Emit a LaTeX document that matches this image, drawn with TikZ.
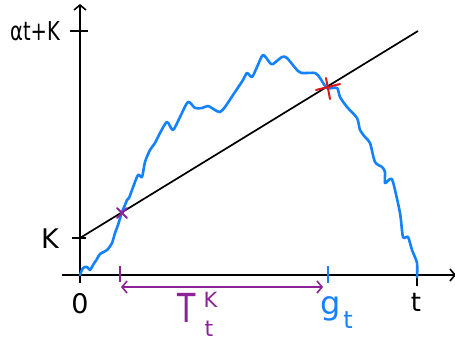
\documentclass[tikz,border=0pt]{standalone}
\usepackage{fontspec}
\usepackage{graphicx}
\setmainfont{DejaVu Sans}
\usetikzlibrary{arrows.meta}
\definecolor{cblue}{RGB}{20,130,255}
\definecolor{cpurple}{RGB}{140,35,150}
\definecolor{cred}{RGB}{220,20,30}
\begin{document}
\begin{tikzpicture}[x=1pt,y=-1pt,
  axis/.style={line width=2pt,black},
  tickline/.style={line width=2pt},
  lbl/.style={inner sep=0pt,anchor=center},
  chev/.style={-{Straight Barb[length=5pt,width=12pt,line width=1.6pt]}}]
\useasboundingbox (0,0) rectangle (455,345);
% coordinates
\coordinate (xs) at (62,275);
\coordinate (xe) at (456,275);
\coordinate (ys) at (80,283);
\coordinate (ye) at (80,4);
\coordinate (Kp) at (80,238);
\coordinate (Lp) at (418,31);
% axes
\draw[axis,chev] (xs) -- (xe);
\draw[axis,chev] (ys) -- (ye);
% ticks
\draw[tickline] (70,31) -- (88,31);
\draw[tickline] (72,238) -- (86,238);
\draw[tickline] (417,276) -- (417,286);
\draw[tickline,cpurple] (120,266) -- (120,282);
\draw[tickline,cblue] (328,266) -- (328,283);
% line alpha t + K
\draw[line width=1.7pt] (Kp) -- (Lp);
% blue path
\draw[cblue,line width=2.6pt,line join=round,line cap=round] plot[smooth,tension=0.45] coordinates {
(80,275) (83,268) (87,267) (90,270) (93,265) (97,259) (100,254) (107,250) (112,243) (115,233) (118,225) (122,212)
(125,205) (127,200) (129,198) (132,190) (138,175) (142,177) (145,162) (150,150) (155,143) (160,133) (167,122) (173,130) (180,117) (188,102) (195,108) (202,108) (208,106) (215,110) (220,112) (225,107) (233,95) (243,80) (247,73) (252,77) (257,67) (263,55) (270,63) (273,64) (282,57) (287,58) (297,70) (302,73) (315,73) (320,78) (327,88) (337,88) (340,97) (347,107) (357,118) (360,130) (365,137) (370,143) (375,162) (382,167) (385,172) (385,183) (390,179) (393,182) (400,213) (403,237) (408,237) (412,250) (417,263) (417,277)};
% crosses
\draw[cred,line width=2pt,line cap=round] (316,90) -- (340,84) (326,78) -- (330,99);
\draw[cpurple,line width=1.8pt,line cap=round] (117,208) -- (127,218) (127,208) -- (117,218);
% double arrow T_t^K
\draw[cpurple,line width=2pt,{Straight Barb[length=5pt,width=12pt,line width=1.6pt]}-{Straight Barb[length=5pt,width=12pt,line width=1.6pt]}] (121,287) -- (323,287);
% labels
\node[lbl,font=\fontsize{26}{26}\selectfont,xscale=0.75,transform shape] (latK) at (35,31) {αt+K};
\node[lbl,font=\fontsize{27}{27}\selectfont] (lK) at (50,239) {K};
\node[lbl,font=\fontsize{27}{27}\selectfont] (l0) at (80,304) {0};
\node[inner sep=0pt,anchor=base west,text=cpurple] (lT) at (177,322)
  {\fontsize{40}{40}\selectfont\scalebox{0.75}[1]{T}\kern8pt\fontsize{21}{21}\selectfont\rlap{\raisebox{15pt}{K}}\kern1pt\fontsize{22}{22}\selectfont\raisebox{-14pt}{t}};
\node[lbl,font=\fontsize{32}{32}\selectfont,text=cblue] (lg) at (331,309) {g};
\node[lbl,font=\fontsize{24}{24}\selectfont,text=cblue] (lgt) at (348,320) {t};
\node[lbl,font=\fontsize{26}{26}\selectfont] (lt) at (416,302) {t};
\end{tikzpicture}
\end{document}
